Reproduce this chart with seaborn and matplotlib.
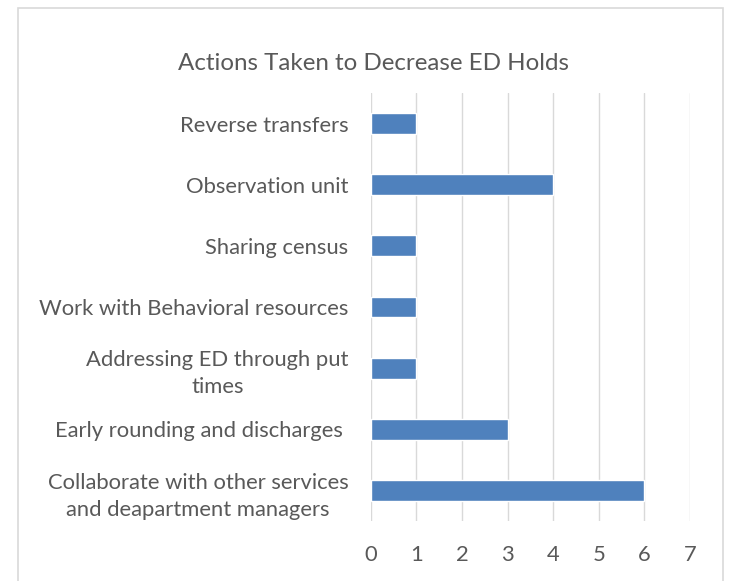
import matplotlib
matplotlib.use("Agg")
import matplotlib.pyplot as plt
from matplotlib.patches import Rectangle
import pandas as pd
import seaborn as sns

# chart data
actions = [
    "Reverse transfers",
    "Observation unit",
    "Sharing census",
    "Work with Behavioral resources",
    "Addressing ED through put\ntimes",
    "Early rounding and discharges ",
    "Collaborate with other services\nand deapartment managers",
]
counts = [1, 4, 1, 1, 1, 3, 6]
x_ticks = [0, 1, 2, 3, 4, 5, 6, 7]

df = pd.DataFrame({"action": actions, "count": counts})

sns.set_style("white")
plt.rcParams["font.family"] = ["Lato", "DejaVu Sans"]
text_col = "#595959"
grid_col = "#D9D9D9"

fig = plt.figure(figsize=(7.3, 5.81), dpi=100)
ax = fig.add_axes([0.508, 0.103, 0.437, 0.737])

sns.barplot(data=df, x="count", y="action", orient="h", color="#4F81BD",
            width=0.34, saturation=1, ax=ax)

ax.set_xlim(0, 7)
ax.set_xticks(x_ticks)
ax.set_xticklabels([str(t) for t in x_ticks])
ax.xaxis.grid(True, color=grid_col, linewidth=1)
ax.set_axisbelow(True)
for s in ax.spines.values():
    s.set_visible(False)
ax.tick_params(axis="both", length=0, labelcolor=text_col, labelsize=15.8)
ax.tick_params(axis="y", pad=16)
ax.tick_params(axis="x", pad=17)
for lbl in ax.get_yticklabels():
    lbl.set_multialignment("center")
    lbl.set_linespacing(1.45)
ax.set_xlabel("")
ax.set_ylabel("")

fig.text(0.512, 0.891, "Actions Taken to Decrease ED Holds", ha="center",
         va="center", fontsize=17.4, color=text_col)

# chart border
fig.add_artist(Rectangle((18 / 730, -0.05), 705 / 730, 1.05 - 8 / 581,
                         transform=fig.transFigure, fill=False,
                         edgecolor=grid_col, linewidth=1.2))

fig.savefig("out.png", dpi=100)
